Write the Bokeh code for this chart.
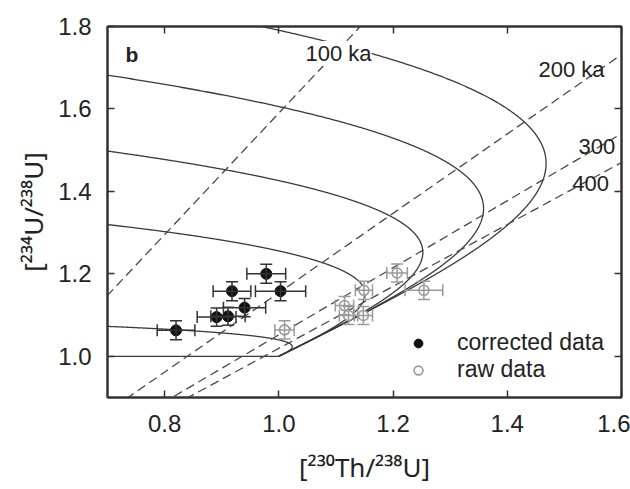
import numpy as np
from bokeh.plotting import figure
from bokeh.models import (Range1d, LinearAxis, FixedTicker, PrintfTickFormatter, Label,
                          Whisker, TeeHead, ColumnDataSource, Legend, LegendItem)
from bokeh.embed import file_html
from bokeh.resources import INLINE

# ---------------- data ----------------
x_ticks = [0.8, 1.0, 1.2, 1.4, 1.6]
y_ticks = [1.0, 1.2, 1.4, 1.6, 1.8]
x_title = "[\u00b2\u00b3\u2070Th/\u00b2\u00b3\u2078U]"
y_title = "[\u00b2\u00b3\u2074U/\u00b2\u00b3\u2078U]"

corr_x = [0.820, 0.891, 0.911, 0.940, 0.918, 0.978, 1.003]
corr_y = [1.063, 1.095, 1.097, 1.118, 1.158, 1.200, 1.158]
corr_xerr = [0.033, 0.034, 0.030, 0.037, 0.033, 0.034, 0.044]
corr_yerr = [0.023, 0.022, 0.022, 0.022, 0.023, 0.023, 0.023]

raw_x = [1.010, 1.122, 1.148, 1.115, 1.149, 1.207, 1.254]
raw_y = [1.064, 1.099, 1.099, 1.123, 1.160, 1.202, 1.160]
raw_xerr = [0.017, 0.016, 0.016, 0.016, 0.015, 0.018, 0.033]
raw_yerr = [0.022, 0.022, 0.022, 0.022, 0.022, 0.022, 0.022]

# evolution model parameters
initial_ratios = [1.0, 1.1, 1.4, 1.6, 1.8, 2.0]       # initial [234U/238U]
isochron_ages_ka = [100, 200, 300, 400]
isochron_labels = ["100 ka", "200 ka", "300", "400"]
LAM230 = np.log(2) / 75690.0
LAM234 = np.log(2) / 245250.0

# ---------------- model curves (U-series decay equations) ----------------
K = LAM230 / (LAM230 - LAM234)

def th_ratio(t, g_now):
    return 1 - np.exp(-LAM230 * t) + (g_now - 1) * K * (1 - np.exp(-(LAM230 - LAM234) * t))

t = np.concatenate([np.linspace(0, 1.0e6, 3000), np.linspace(1.0e6, 4.0e6, 600)])
curves_x, curves_y = [], []
for g0 in initial_ratios:
    g = 1 + (g0 - 1) * np.exp(-LAM234 * t)
    curves_x.append(th_ratio(t, g))
    curves_y.append(g)

iso_x, iso_y = [], []
gg = np.array([0.8, 1.9])
for a in isochron_ages_ka:
    iso_x.append(th_ratio(a * 1000.0, gg))
    iso_y.append(gg)

# ---------------- figure ----------------
FONT = "Liberation Sans"
TXT = "#222222"
p = figure(width=630, height=489, x_range=Range1d(0.7, 1.6), y_range=Range1d(0.9, 1.8),
           output_backend="svg", toolbar_location=None,
           min_border_left=107, min_border_right=9, min_border_top=26, min_border_bottom=92)
p.grid.visible = False
p.outline_line_color = "#333333"
p.outline_line_width = 2
p.background_fill_color = "white"

def style_axis(ax, ticks, labels=True):
    ax.ticker = FixedTicker(ticks=ticks)
    ax.formatter = PrintfTickFormatter(format="%.1f")
    ax.minor_tick_line_color = None
    ax.major_tick_in = 7
    ax.major_tick_out = 0
    ax.major_tick_line_color = "#333333"
    ax.major_tick_line_width = 1.5
    ax.axis_line_color = "#333333"
    ax.axis_line_width = 2
    ax.major_label_text_font = FONT
    ax.major_label_text_color = TXT
    if labels:
        ax.major_label_text_font_size = "24px"
        ax.axis_label_text_font = "Noto Sans"
        ax.axis_label_text_font_size = "26px"
        ax.axis_label_text_font_style = "normal"
        ax.axis_label_text_color = TXT
    else:
        ax.major_label_overrides = {tk: "" for tk in ticks}
        ax.major_label_text_font_size = "1px"
        ax.major_label_standoff = 0

style_axis(p.xaxis[0], x_ticks)
p.xaxis[0].major_label_standoff = 17
p.xaxis[0].axis_label = x_title
p.xaxis[0].axis_label_standoff = 14
style_axis(p.yaxis[0], y_ticks)
p.yaxis[0].major_label_standoff = 16
p.yaxis[0].axis_label = y_title
p.yaxis[0].axis_label_standoff = 4

top = LinearAxis()
style_axis(top, x_ticks, labels=False)
p.add_layout(top, "above")
right = LinearAxis()
style_axis(right, y_ticks, labels=False)
p.add_layout(right, "right")

# evolution curves and isochrons
for cx, cy in zip(curves_x, curves_y):
    p.line(cx, cy, line_color="#3a3a3a", line_width=1.3)
for ix, iy in zip(iso_x, iso_y):
    p.line(ix, iy, line_color="#4a4a4a", line_width=1.3, line_dash="9 5")

# error bars
def add_err(xs, ys, xe, ye, color):
    src = ColumnDataSource(dict(x=xs, y=ys,
                                xl=[a - b for a, b in zip(xs, xe)], xu=[a + b for a, b in zip(xs, xe)],
                                yl=[a - b for a, b in zip(ys, ye)], yu=[a + b for a, b in zip(ys, ye)]))
    wx = Whisker(source=src, base="y", lower="xl", upper="xu", dimension="width",
                 line_color=color, line_width=1.5, level="glyph",
                 lower_head=TeeHead(size=12, line_color=color, line_width=1.5),
                 upper_head=TeeHead(size=12, line_color=color, line_width=1.5))
    wy = Whisker(source=src, base="x", lower="yl", upper="yu", dimension="height",
                 line_color=color, line_width=1.5, level="glyph",
                 lower_head=TeeHead(size=12, line_color=color, line_width=1.5),
                 upper_head=TeeHead(size=12, line_color=color, line_width=1.5))
    p.add_layout(wx)
    p.add_layout(wy)
    return src

add_err(raw_x, raw_y, raw_xerr, raw_yerr, "#9a9a9a")
add_err(corr_x, corr_y, corr_xerr, corr_yerr, "#333333")

r_raw = p.scatter(raw_x, raw_y, size=10, marker="circle", fill_color="white",
                  line_color="#9a9a9a", line_width=1.6)
r_corr = p.scatter(corr_x, corr_y, size=11, marker="circle", fill_color="#111111",
                   line_color="#111111")

# legend
leg = Legend(items=[LegendItem(label="corrected data", renderers=[r_corr]),
                    LegendItem(label="raw data", renderers=[r_raw])],
             location=(300, 14), glyph_width=22, glyph_height=22, label_standoff=28,
             spacing=0, padding=0, margin=0, border_line_color=None, background_fill_alpha=0,
             label_text_font=FONT, label_text_font_size="23px", label_text_color=TXT)
p.add_layout(leg)

# panel letter
p.add_layout(Label(x=0.7, y=1.8, x_offset=18, y_offset=-28, text="b", text_font=FONT,
                   text_font_size="21px", text_font_style="bold", text_color=TXT,
                   text_baseline="alphabetic"))

# isochron labels
iso_lab_pos = [(1.0467, 1.7127), (1.4547, 1.6738), (1.5247, 1.487), (1.5137, 1.3973)]
for (lx, ly), txt in zip(iso_lab_pos, isochron_labels):
    p.add_layout(Label(x=lx, y=ly, y_offset=9, text=txt, text_font=FONT, text_font_size="22px",
                       text_color=TXT, text_baseline="alphabetic", text_align="left",
                       background_fill_color="white",
                       background_fill_alpha=1.0 if txt == "100 ka" else 0.0))

open("out.html", "w").write(file_html(p, INLINE))
